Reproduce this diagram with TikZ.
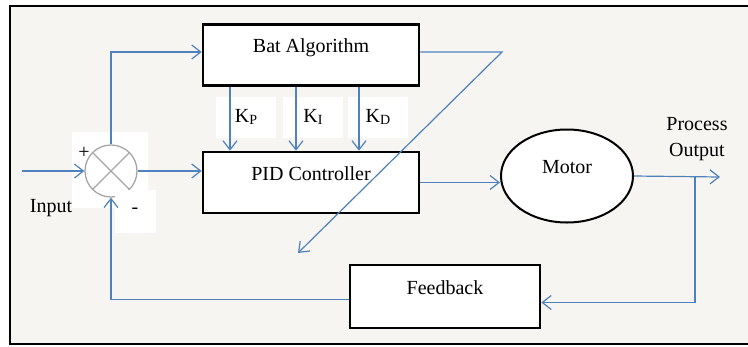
\documentclass[tikz,border=0pt]{standalone}
\usepackage{fontspec}
\setmainfont{Liberation Serif}
\usetikzlibrary{shapes.geometric, arrows.meta}
\definecolor{wireblue}{HTML}{4F81BD}
\definecolor{paper}{HTML}{F6F5F1}
\newcommand{\gainsub}[1]{\raisebox{-2.5pt}{\fontsize{14}{14}\selectfont #1}}
\tikzstyle{block} = [rectangle, minimum width=216pt, minimum height=61pt, text height=14pt, text depth=19pt, text centered, draw=black, line width=2.6pt, fill=white, font=\fontsize{20}{24}\selectfont]
\tikzstyle{plant} = [ellipse, minimum width=132pt, minimum height=93pt, text height=14pt, text depth=20pt, draw=black, line width=2pt, fill=white, font=\fontsize{20}{24}\selectfont]
\tikzstyle{summer} = [circle, minimum size=52pt, inner sep=0pt, draw=gray!70, line width=1.3pt, fill=white, path picture={\draw[gray!70, line width=1.3pt] (path picture bounding box.south west) -- (path picture bounding box.north east) (path picture bounding box.north west) -- (path picture bounding box.south east);}]
\tikzstyle{gain} = [rectangle, fill=white, minimum width=60pt, minimum height=41pt, inner sep=0pt, font=\fontsize{20}{24}\selectfont]
\tikzstyle{tag} = [inner sep=0pt, font=\fontsize{20}{24}\selectfont]
\tikzstyle{arrow} = [draw=wireblue, line width=1.2pt, -{Straight Barb[length=9pt,width=14pt]}]

\begin{document}
\begin{tikzpicture}[x=1pt, y=-1pt]
    \useasboundingbox (0,0) rectangle (748,346);

    % Frame
    \begin{scope}
        \clip (0,0) rectangle (748,346);
        \fill[paper] (10,6) rectangle (770,344);
        \draw[line width=2.5pt] (10,6) rectangle (770,344);
    \end{scope}
    \fill[white] (72,132) rectangle (148,208);

    % Nodes
    \node (bat) [block] at (311,55) {Bat Algorithm};
    \node (pid) [block] at (311,182.5) {PID Controller};
    \node (motor) [plant] at (567,176) {Motor};
    \node (fb) [block, minimum width=190pt, minimum height=63pt] at (445,296.5) {Feedback};
    \node (sum) [summer] at (111,171) {};
    \node (plus) [tag] at (84,153) {+};
    \node (minus) [gain, minimum width=41pt, minimum height=43pt] at (135,211) {-};
    \node (input) [tag] at (51,208) {Input};
    \node (output) [tag, align=center, font=\fontsize{20}{26}\selectfont] at (697,139) {Process\\Output};
    \node (kp) [gain] at (246,117) {K\gainsub{P}};
    \node (ki) [gain] at (313,117) {K\gainsub{I}};
    \node (kd) [gain] at (378,117) {K\gainsub{D}};
    \coordinate (in) at (22,171);
    \coordinate (turn) at (502,52);
    \coordinate (tip) at (298,253);
    \coordinate (branch) at (695,177);
    \coordinate (out) at (720,177);

    % Arrows
    \draw [arrow] (in) -- (sum.west);
    \draw [arrow] (sum.north) |- ([yshift=3pt]bat.west);
    \draw [arrow] (sum.east) -- (sum.east -| pid.west);
    \draw [arrow] ([xshift=-81pt]bat.south) -- ([xshift=-81pt]pid.north);
    \draw [arrow] ([xshift=-15pt]bat.south) -- ([xshift=-15pt]pid.north);
    \draw [arrow] ([xshift=48pt]bat.south) -- ([xshift=48pt]pid.north);
    \draw [arrow] ([yshift=3pt]bat.east) -- (turn) -- (tip);
    \draw [arrow] (pid.east) -- (pid.east -| motor.west);
    \draw [arrow] (motor.east) -- (out);

    % Feedback loop
    \draw [arrow] (branch) |- ([yshift=-6pt]fb.east);
    \draw [arrow] ([yshift=-3pt]fb.west) -| (sum.south);
\end{tikzpicture}
\end{document}
